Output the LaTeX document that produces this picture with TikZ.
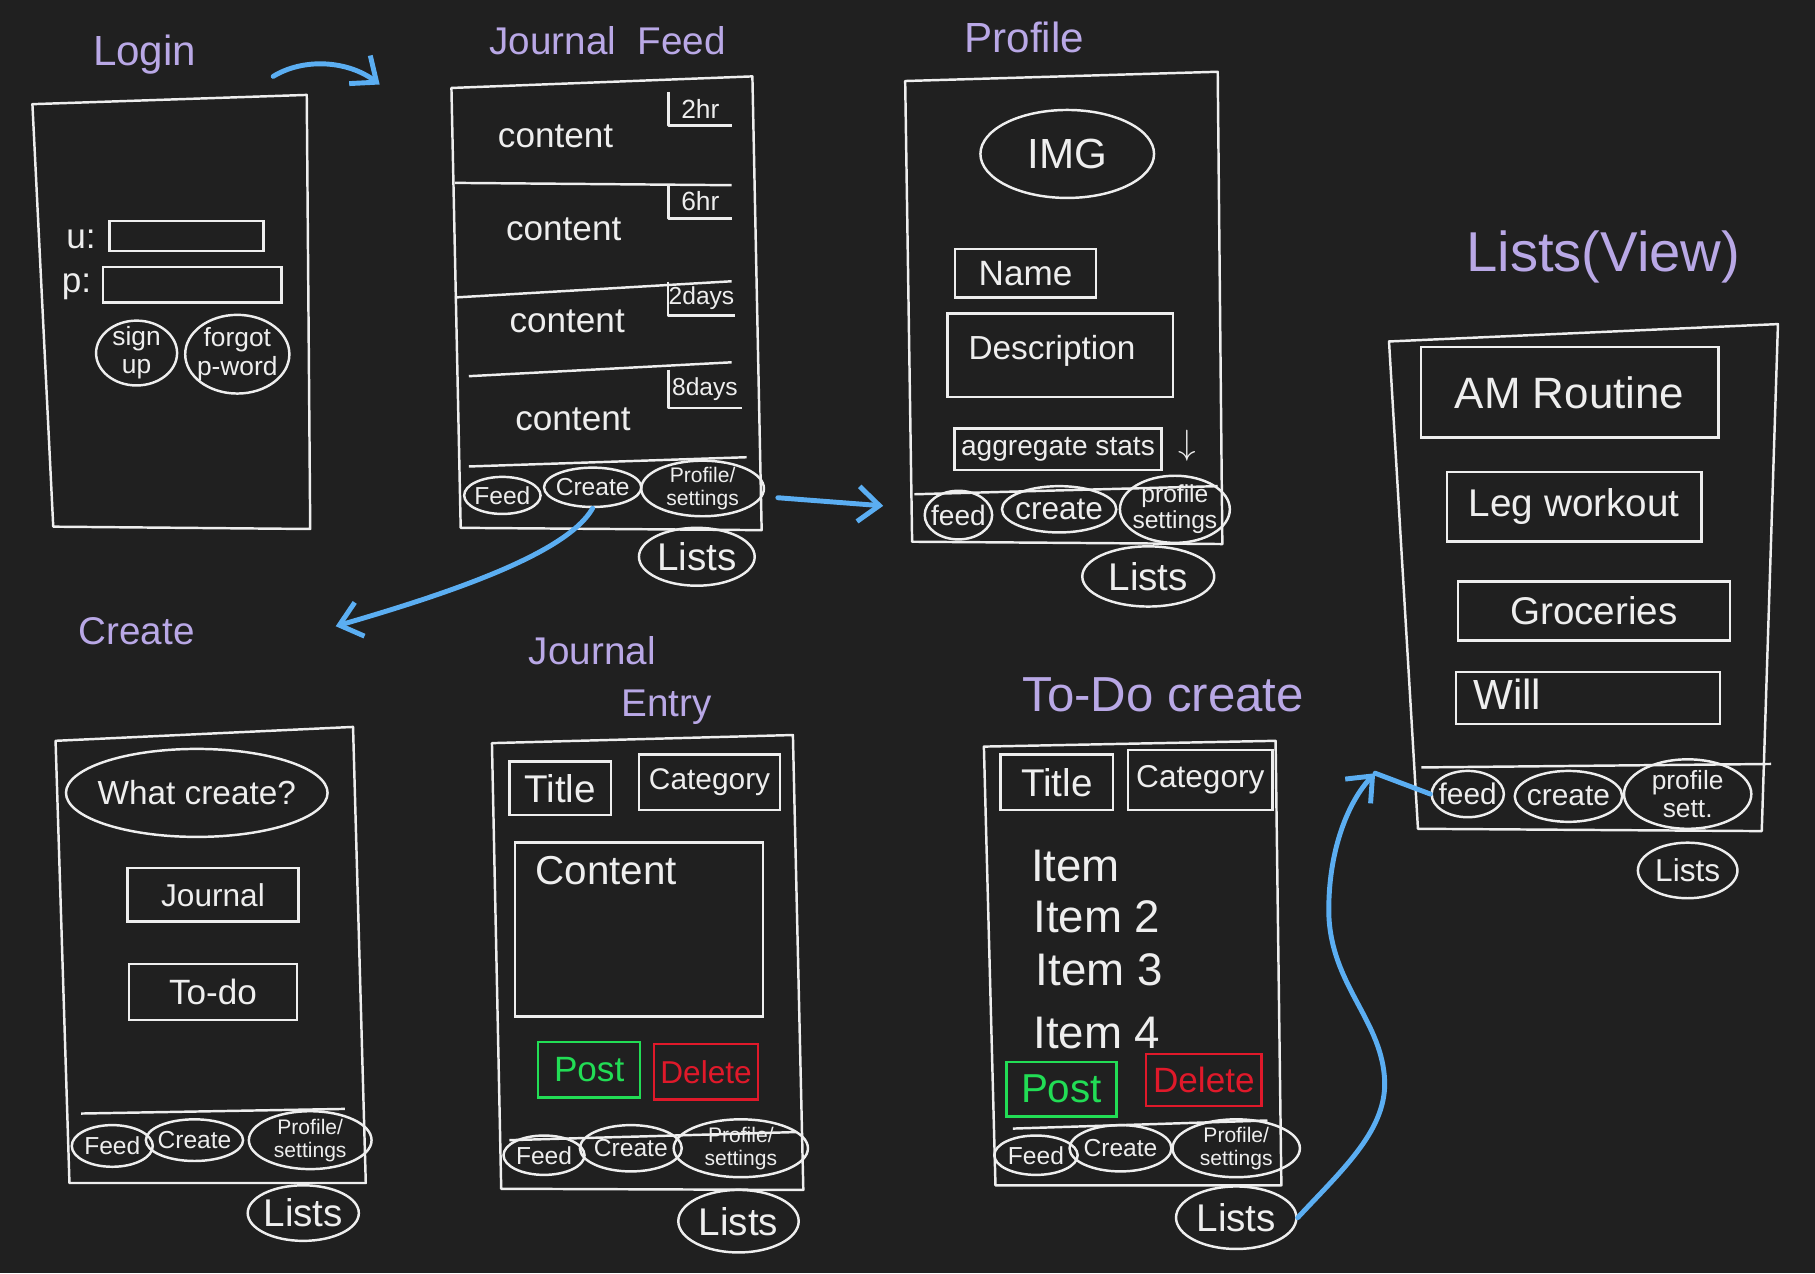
\documentclass[tikz,border=0pt]{standalone}
\usepackage{fontspec}
\setmainfont{Liberation Sans}
\usetikzlibrary{arrows.meta, shapes.geometric}

\definecolor{board}{HTML}{202020}
\definecolor{chalk}{HTML}{EEEEEE}
\definecolor{lilac}{HTML}{B9A8E6}
\definecolor{sky}{HTML}{5BAEF2}
\definecolor{okgreen}{HTML}{22DD55}
\definecolor{nored}{HTML}{E0192A}

\newdimen\pxu \pxu=0.011575cm

\tikzset{
  frame/.style={draw=chalk, line width=0.7pt, line join=round},
  field/.style={draw=chalk, line width=0.7pt, text=chalk, inner sep=0pt},
  pill/.style={ellipse, draw=chalk, line width=0.7pt, text=chalk, inner sep=-1pt, align=center},
  nav/.style={pill, font=\fontsize{7}{7.5}\selectfont},
  navtwo/.style={pill, font=\fontsize{6}{6.5}\selectfont},
  lbl/.style={text=chalk},
  heading/.style={text=lilac, font=\fontsize{12}{14}\selectfont},
  flow/.style={draw=sky, line width=1.4pt, line cap=round, ->},
  flowline/.style={draw=sky, line width=1.4pt, line cap=round},
}

\begin{document}
\begin{tikzpicture}[x=0.011575cm, y=-0.011575cm, >={Straight Barb[length=6pt,width=10pt]}]
  \fill [board] (0,0) rectangle (1568,1100);
  \useasboundingbox (0,0) rectangle (1568,1100);

  \node (loginT) at (125,47) [heading] {Login};
  \draw [frame] (28,90) -- (265,82) -- (268,457) -- (46,455) -- cycle;
  \node (uLbl) at (70,207) [lbl, font=\fontsize{10}{12}\selectfont] {u:};
  \node (uBox) at (161,204) [field, minimum width=133\pxu, minimum height=26\pxu] {};
  \node (pLbl) at (66,248) [lbl, font=\fontsize{10}{12}\selectfont] {p:};
  \node (pBox) at (166,246) [field, minimum width=154\pxu, minimum height=31\pxu] {};
  \node (signUp) at (118,305) [pill, minimum width=70\pxu, minimum height=56\pxu, font=\fontsize{7.5}{8}\selectfont] {sign\\up};
  \node (forgot) at (205,306) [pill, minimum width=90\pxu, minimum height=68\pxu, font=\fontsize{7.5}{8}\selectfont] {forgot\\p-word};

  \coordinate (loginOut) at (236,66);
  \coordinate (feedIn) at (328,73);
  \draw [flow] (loginOut) .. controls (262,50) and (300,52) .. (feedIn);

  \node (feedT) at (525,35) [heading, font=\fontsize{11}{13}\selectfont] {Journal\ \ Feed};
  \draw [frame] (390,76) -- (650,66) -- (658,458) -- (398,456) -- cycle;
  \draw [frame] (393,158) -- (632,160);
  \draw [frame] (393,257) -- (632,243);
  \draw [frame] (405,325) -- (632,313);
  \draw [frame] (405,403) -- (645,395);
  \node (c1) at (480,118) [lbl, font=\fontsize{10}{12}\selectfont] {content};
  \node (c2) at (487,198) [lbl, font=\fontsize{10}{12}\selectfont] {content};
  \node (c3) at (490,278) [lbl, font=\fontsize{10}{12}\selectfont] {content};
  \node (c4) at (495,362) [lbl, font=\fontsize{10}{12}\selectfont] {content};
  \node (t1) at (605,94) [lbl, minimum width=54\pxu, minimum height=28\pxu, inner sep=0pt, font=\fontsize{7.5}{8}\selectfont] {2hr};
  \node (t2) at (605,174) [lbl, minimum width=54\pxu, minimum height=28\pxu, inner sep=0pt, font=\fontsize{7.5}{8}\selectfont] {6hr};
  \node (t3) at (606,258) [lbl, minimum width=57\pxu, minimum height=28\pxu, inner sep=0pt, font=\fontsize{7}{8}\selectfont] {2days};
  \node (t4) at (609,336) [lbl, minimum width=62\pxu, minimum height=32\pxu, inner sep=0pt, font=\fontsize{7}{8}\selectfont] {8days};
  \draw [frame] (t1.north west) |- (t1.south east);
  \draw [frame] (t2.north west) |- (t2.south east);
  \draw [frame] (t3.north west) |- (t3.south east);
  \draw [frame] (t4.north west) |- (t4.south east);
  \node (jfFeed) at (434,428) [nav, minimum width=66\pxu, minimum height=32\pxu] {Feed};
  \node (jfCreate) at (512,421) [nav, minimum width=84\pxu, minimum height=34\pxu] {Create};
  \node (jfProf) at (607,422) [navtwo, minimum width=106\pxu, minimum height=48\pxu] {Profile/\\settings};
  \node (jfLists) at (602,481) [pill, minimum width=100\pxu, minimum height=50\pxu, font=\fontsize{11}{12}\selectfont] {Lists};

  \coordinate (createIn) at (290,541);
  \draw [flow] (jfCreate.south) .. controls (490,478) and (390,512) .. (createIn);
  \coordinate (feedOut) at (672,430);
  \coordinate (profIn) at (763,437);
  \draw [flow] (feedOut) -- (profIn);

  \node (profT) at (885,32) [heading] {Profile};
  \draw [frame] (782,70) -- (1052,62) -- (1056,470) -- (788,468) -- cycle;
  \node (img) at (922,133) [pill, minimum width=150\pxu, minimum height=76\pxu, font=\fontsize{12}{14}\selectfont] {IMG};
  \node (name) at (886,236) [field, minimum width=122\pxu, minimum height=42\pxu, font=\fontsize{10}{12}\selectfont] {Name};
  \node (desc) at (916,307) [field, minimum width=195\pxu, minimum height=72\pxu] {};
  \node (descTxt) at (826,303) [lbl, anchor=west, font=\fontsize{9.5}{12}\selectfont] {Description};
  \node (stats) at (914,388) [field, minimum width=179\pxu, minimum height=36\pxu, font=\fontsize{8}{10}\selectfont] {aggregate stats};
  \node (more) at (1026,385) [lbl] {$\downarrow$};
  \draw [frame] (790,427) -- (1052,420);
  \node (pfFeed) at (828,445) [nav, minimum width=48\pxu, minimum height=42\pxu, font=\fontsize{8}{9}\selectfont] {feed};
  \node (pfCreate) at (915,440) [nav, minimum width=96\pxu, minimum height=40\pxu, font=\fontsize{9}{10}\selectfont] {create};
  \node (pfProf) at (1015,440) [navtwo, minimum width=90\pxu, minimum height=58\pxu, font=\fontsize{7}{7.5}\selectfont] {profile\\settings};
  \node (pfLists) at (992,498) [pill, minimum width=114\pxu, minimum height=52\pxu, font=\fontsize{11}{12}\selectfont] {Lists};

  \node (listT) at (1385,222) [heading, font=\fontsize{16}{18}\selectfont] {Lists(View)};
  \draw [frame] (1200,295) -- (1536,280) -- (1522,718) -- (1225,716) -- cycle;
  \node (amRoutine) at (1356,339) [field, minimum width=257\pxu, minimum height=78\pxu, font=\fontsize{12.5}{15}\selectfont] {AM Routine};
  \node (legWork) at (1360,438) [field, minimum width=220\pxu, minimum height=60\pxu, font=\fontsize{11}{13}\selectfont] {Leg workout};
  \node (groceries) at (1377,528) [field, minimum width=235\pxu, minimum height=51\pxu, font=\fontsize{11}{13}\selectfont] {Groceries};
  \node (willBox) at (1372,603) [field, minimum width=228\pxu, minimum height=45\pxu] {};
  \node (will) at (1262,600) [lbl, anchor=west, font=\fontsize{12}{14}\selectfont] {Will};
  \draw [frame] (1228,663) -- (1530,660);
  \node (lvFeed) at (1268,686) [nav, minimum width=58\pxu, minimum height=40\pxu, font=\fontsize{8.5}{9}\selectfont] {feed};
  \node (lvCreate) at (1355,688) [nav, minimum width=82\pxu, minimum height=44\pxu, font=\fontsize{8.5}{9}\selectfont] {create};
  \node (lvProf) at (1458,686) [navtwo, minimum width=110\pxu, minimum height=60\pxu, font=\fontsize{7.5}{8}\selectfont] {profile\\sett.};
  \node (lvLists) at (1458,752) [pill, minimum width=86\pxu, minimum height=48\pxu, font=\fontsize{9}{10}\selectfont] {Lists};

  \node (createT) at (118,545) [heading, font=\fontsize{11}{13}\selectfont] {Create};
  \draw [frame] (48,640) -- (305,628) -- (316,1022) -- (60,1022) -- cycle;
  \node (what) at (170,685) [pill, minimum width=226\pxu, minimum height=76\pxu, inner sep=-3pt, font=\fontsize{9.5}{11}\selectfont] {What create?};
  \node (journal) at (184,773) [field, minimum width=148\pxu, minimum height=46\pxu, font=\fontsize{9}{11}\selectfont] {Journal};
  \node (todo) at (184,857) [field, minimum width=145\pxu, minimum height=48\pxu, font=\fontsize{10}{12}\selectfont] {To-do};
  \draw [frame] (70,962) -- (298,958);
  \node (crFeed) at (97,990) [nav, minimum width=70\pxu, minimum height=36\pxu] {Feed};
  \node (crCreate) at (168,985) [nav, minimum width=84\pxu, minimum height=36\pxu] {Create};
  \node (crProf) at (268,985) [navtwo, minimum width=106\pxu, minimum height=50\pxu] {Profile/\\settings};
  \node (crLists) at (262,1048) [pill, minimum width=96\pxu, minimum height=48\pxu, font=\fontsize{11}{12}\selectfont] {Lists};

  \node (entryT) at (536,588) [heading, align=left, font=\fontsize{11}{15}\selectfont] {Journal\\\hspace*{2.4em}Entry};
  \draw [frame] (425,642) -- (685,635) -- (694,1028) -- (433,1027) -- cycle;
  \node (jeTitle) at (484,681) [field, minimum width=88\pxu, minimum height=46\pxu, font=\fontsize{11}{13}\selectfont] {Title};
  \node (jeCat) at (613,676) [field, minimum width=122\pxu, minimum height=48\pxu, font=\fontsize{8.5}{11}\selectfont] {Category};
  \node (jeBody) at (552,803) [field, minimum width=214\pxu, minimum height=150\pxu] {};
  \node (jeContent) at (452,752) [lbl, anchor=west, font=\fontsize{11.5}{14}\selectfont] {Content};
  \node (jePost) at (509,924) [field, draw=okgreen, text=okgreen, minimum width=88\pxu, minimum height=48\pxu, font=\fontsize{10}{12}\selectfont] {Post};
  \node (jeDel) at (610,926) [field, draw=nored, text=nored, minimum width=90\pxu, minimum height=48\pxu, font=\fontsize{9}{11}\selectfont] {Delete};
  \draw [frame] (440,985) -- (688,978);
  \node (jeFeed) at (470,998) [nav, minimum width=70\pxu, minimum height=34\pxu] {Feed};
  \node (jeCreate) at (545,992) [nav, minimum width=88\pxu, minimum height=40\pxu] {Create};
  \node (jeProf) at (640,992) [navtwo, minimum width=116\pxu, minimum height=50\pxu] {Profile/\\settings};
  \node (jeLists) at (638,1055) [pill, minimum width=104\pxu, minimum height=54\pxu, font=\fontsize{11}{12}\selectfont] {Lists};

  \node (todoT) at (1005,600) [heading, font=\fontsize{14}{16}\selectfont] {To-Do create};
  \draw [frame] (850,645) -- (1102,640) -- (1107,1024) -- (860,1024) -- cycle;
  \node (tdTitle) at (913,676) [field, minimum width=97\pxu, minimum height=48\pxu, font=\fontsize{11}{13}\selectfont] {Title};
  \node (tdCat) at (1037,674) [field, minimum width=125\pxu, minimum height=52\pxu, font=\fontsize{9}{12}\selectfont] {Category};
  \node (item1) at (880,748) [lbl, anchor=west, font=\fontsize{13}{15}\selectfont] {Item};
  \node (item2) at (882,792) [lbl, anchor=west, font=\fontsize{13}{15}\selectfont] {Item 2};
  \node (item3) at (884,838) [lbl, anchor=west, font=\fontsize{13}{15}\selectfont] {Item 3};
  \node (item4) at (882,892) [lbl, anchor=west, font=\fontsize{13}{15}\selectfont] {Item 4};
  \node (tdPost) at (917,941) [field, draw=okgreen, text=okgreen, minimum width=95\pxu, minimum height=47\pxu, font=\fontsize{11.5}{14}\selectfont] {Post};
  \node (tdDel) at (1040,933) [field, draw=nored, text=nored, minimum width=100\pxu, minimum height=45\pxu, font=\fontsize{10}{13}\selectfont] {Delete};
  \draw [frame] (875,975) -- (1095,968);
  \node (tdFeed) at (895,998) [nav, minimum width=72\pxu, minimum height=34\pxu] {Feed};
  \node (tdCreate) at (968,992) [nav, minimum width=88\pxu, minimum height=40\pxu] {Create};
  \node (tdProf) at (1068,992) [navtwo, minimum width=110\pxu, minimum height=50\pxu] {Profile/\\settings};
  \node (tdLists) at (1068,1052) [pill, minimum width=104\pxu, minimum height=54\pxu, font=\fontsize{11}{12}\selectfont] {Lists};

  \coordinate (lvIn) at (1188,668);
  \draw [flow] (tdLists.east) .. controls (1160,1010) and (1200,975) .. (1196,930) .. controls (1192,880) and (1150,850) .. (1148,790) .. controls (1147,735) and (1165,692) .. (lvIn);
  \draw [flowline] (lvIn) -- (lvFeed.west);
\end{tikzpicture}
\end{document}
